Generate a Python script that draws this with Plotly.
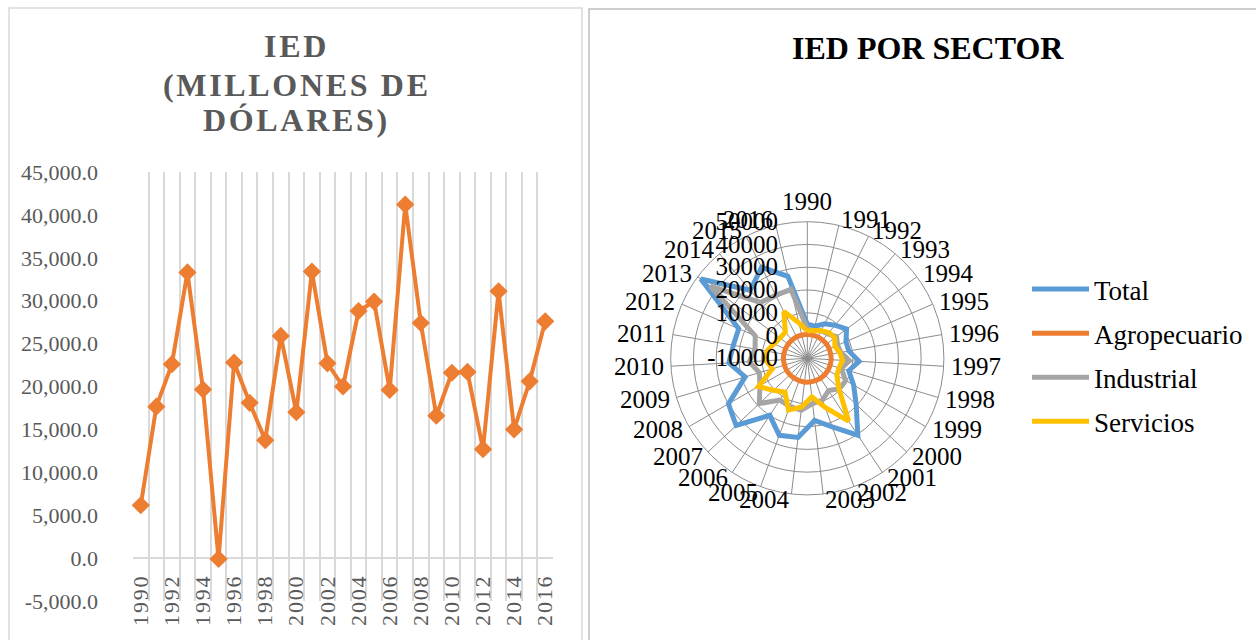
import math
import plotly.graph_objects as go

# ---------------- data ----------------
years = [1990, 1991, 1992, 1993, 1994, 1995, 1996, 1997, 1998, 1999, 2000,
         2001, 2002, 2003, 2004, 2005, 2006, 2007, 2008, 2009, 2010, 2011,
         2012, 2013, 2014, 2015, 2016]
ied = [6160, 17650, 22600, 33300, 19650, -100, 22800, 18100, 13750, 25900,
       17000, 33400, 22700, 20000, 28800, 29900, 19600, 41200, 27400, 16600,
       21600, 21700, 12700, 31100, 15000, 20600, 27600]

x_label_years = [1990, 1992, 1994, 1996, 1998, 2000, 2002, 2004, 2006, 2008,
                 2010, 2012, 2014, 2016]
y_tick_vals = [-5000, 0, 5000, 10000, 15000, 20000, 25000, 30000, 35000,
               40000, 45000]
y_tick_text = ["-5,000.0", "0.0", "5,000.0", "10,000.0", "15,000.0",
               "20,000.0", "25,000.0", "30,000.0", "35,000.0", "40,000.0",
               "45,000.0"]

radar_cats = [str(y) for y in years]
total = [5000, 4500, 7000, 9000, 11500, 8500, 8500, 12800, 9000, 13500,
         19500, 30400, 22000, 17500, 25000, 26000, 20000, 33000, 30000,
         18500, 24500, 23000, 22800, 48300, 29000, 34700, 27000]
agro = [500, 450, 520, 480, 550, 500, 470, 530, 490, 510, 560, 500, 480,
        520, 540, 500, 470, 520, 560, 490, 510, 530, 480, 500, 520, 540, 500]
industrial = [3000, 2500, 3500, 4000, 6000, 4500, 5000, 8500, 5500, 9500,
              9500, 7000, 9500, 10000, 13000, 12500, 12000, 19000, 14000,
              12000, 15500, 13300, 14900, 43000, 22000, 21000, 21200]
servicios = [2000, 2500, 3500, 4800, 5000, 3200, 4500, 5500, 4500, 5000,
             9000, 23000, 13000, 7000, 11500, 14200, 7800, 10500, 14800,
             6000, 8100, 8000, 6000, 5000, 5000, 13000, 6000]
radar_ticks = [-10000, 0, 10000, 20000, 30000, 40000, 50000]
radar_tick_text = ["-10000", "0", "10000", "20000", "30000", "40000", "50000"]

series_names = ["Total", "Agropecuario", "Industrial", "Servicios"]
series_vals = [total, agro, industrial, servicios]
series_colors = ["#5B9BD5", "#ED7D31", "#A5A5A5", "#FFC000"]

W, H = 1256, 640
SERIF = "Liberation Serif"
HS = "\u200a"


def spaced(s):
    return HS.join(list(s))


fig = go.Figure()

fig.add_trace(go.Scatter(
    x=years, y=ied, mode="lines+markers",
    line=dict(color="#ED7D31", width=4),
    marker=dict(symbol="diamond", size=14, color="#ED7D31"),
    showlegend=False, xaxis="x", yaxis="y", cliponaxis=False))

for name, vals, color in zip(series_names, series_vals, series_colors):
    fig.add_trace(go.Scatterpolar(
        r=vals + vals[:1], theta=radar_cats + radar_cats[:1],
        mode="lines", name=name, legendgroup=name,
        line=dict(color=color, width=5)))


def px_x(v):
    return v / W


def px_y(v):
    return 1 - v / H


# polar geometry
cx, cy, rad = 807.3, 358.3, 136.6

# category labels around the radar, placed Excel-style (anchored at the
# point just outside the outer ring, text extending outward)
cat_annotations = []
n = len(radar_cats)
label_r = rad + 6
for i, cat in enumerate(radar_cats):
    th = 2 * math.pi * i / n
    s, c = math.sin(th), math.cos(th)
    px_ = cx + s * label_r
    py_ = cy - c * label_r
    if abs(s) < 1e-6:
        xa, ya = "center", ("bottom" if c > 0 else "top")
    else:
        xa, ya = ("left" if s > 0 else "right"), "middle"
    cat_annotations.append(dict(
        text=cat, x=px_x(px_), y=px_y(py_), xref="paper", yref="paper",
        showarrow=False, xanchor=xa, yanchor=ya, borderpad=0,
        font=dict(family=SERIF, size=25, color="black")))

fig.update_layout(
    autosize=True,
    margin=dict(l=0, r=0, t=0, b=0, pad=0, autoexpand=False),
    paper_bgcolor="white", plot_bgcolor="white",
    xaxis=dict(
        domain=[px_x(133), px_x(553)], range=[1989.5, 2016.5],
        anchor="free", position=px_y(559), automargin=False,
        tickmode="array", tickvals=x_label_years,
        ticktext=[spaced(str(y)) for y in x_label_years],
        tickangle=-90, ticks="", showgrid=False, zeroline=False,
        showline=False, ticklabelstandoff=12,
        tickfont=dict(family=SERIF, size=22, color="#595959"),
        minor=dict(tick0=1989.5, dtick=1, showgrid=True,
                   gridcolor="#D9D9D9", gridwidth=1.5),
    ),
    yaxis=dict(
        domain=[px_y(601), px_y(172)], range=[-5000, 45000],
        automargin=False,
        tickmode="array", tickvals=y_tick_vals, ticktext=y_tick_text,
        showgrid=False, zeroline=True, zerolinecolor="#D9D9D9",
        zerolinewidth=1.5, showline=False, ticks="",
        ticklabelstandoff=34,
        tickfont=dict(family=SERIF, size=22, color="#595959"),
    ),
    polar=dict(
        domain=dict(x=[px_x(cx - rad), px_x(cx + rad)],
                    y=[px_y(cy + rad), px_y(cy - rad)]),
        bgcolor="white",
        angularaxis=dict(
            type="category", direction="clockwise", rotation=90,
            categoryorder="array", categoryarray=radar_cats,
            showticklabels=False,
            gridcolor="#8C8C8C", gridwidth=1, showline=True,
            linecolor="#8C8C8C", linewidth=1, ticks=""),
        radialaxis=dict(
            range=[-10000, 50000], tickmode="array", tickvals=radar_ticks,
            ticktext=radar_tick_text, angle=90, side="counterclockwise",
            tickangle=90, showline=False, gridcolor="#8C8C8C", gridwidth=1,
            ticks="outside", ticklen=20, tickcolor="rgba(0,0,0,0)",
            tickfont=dict(family=SERIF, size=25, color="black")),
    ),
    legend=dict(
        x=px_x(1027), xanchor="left", y=px_y(265), yanchor="top",
        font=dict(family=SERIF, size=27, color="black"),
        itemwidth=57, tracegroupgap=6, bgcolor="rgba(0,0,0,0)"),
    shapes=[
        dict(type="rect", xref="paper", yref="paper",
             x0=px_x(9), x1=px_x(582), y0=px_y(660), y1=px_y(8),
             line=dict(color="#D9D9D9", width=1.5), fillcolor="rgba(0,0,0,0)"),
        dict(type="rect", xref="paper", yref="paper",
             x0=px_x(589), x1=px_x(1275), y0=px_y(660), y1=px_y(9),
             line=dict(color="#BFBFBF", width=1.5), fillcolor="rgba(0,0,0,0)"),
    ],
    annotations=[
        dict(text="<b>" + spaced("IED") + "</b>", x=px_x(295), y=px_y(46),
             xref="paper", yref="paper", showarrow=False, yanchor="middle",
             xanchor="center",
             font=dict(family=SERIF, size=32, color="#595959")),
        dict(text="<b>" + spaced("(MILLONES DE") + "</b>", x=px_x(295),
             y=px_y(85), xref="paper", yref="paper", showarrow=False,
             yanchor="middle", xanchor="center",
             font=dict(family=SERIF, size=32, color="#595959")),
        dict(text="<b>" + spaced("DÓLARES)") + "</b>", x=px_x(295),
             y=px_y(120), xref="paper", yref="paper", showarrow=False,
             yanchor="middle", xanchor="center",
             font=dict(family=SERIF, size=32, color="#595959")),
        dict(text="<b>IED POR SECTOR</b>", x=px_x(928), y=px_y(48),
             xref="paper", yref="paper", showarrow=False, yanchor="middle",
             xanchor="center",
             font=dict(family=SERIF, size=32, color="black")),
    ] + cat_annotations,
)

fig.write_html(
    "out.html",
    config={"displayModeBar": False},
    default_width="1256px; position:absolute; left:0; top:0",
    default_height="640px",
)
